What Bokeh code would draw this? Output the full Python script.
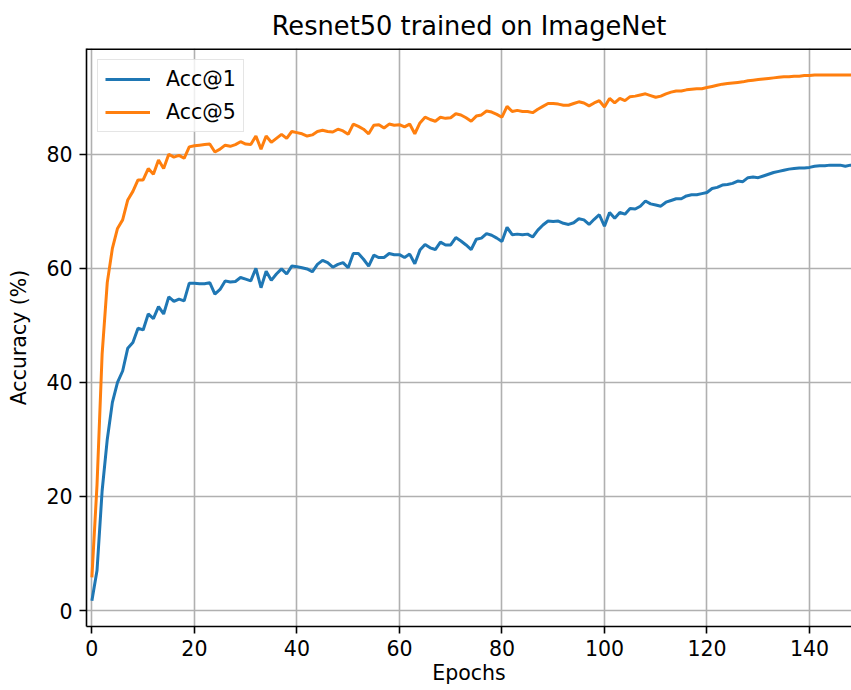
from bokeh.plotting import figure
from bokeh.models import Range1d, FixedTicker, Legend, LegendItem, Span
from bokeh.embed import file_html
from bokeh.resources import INLINE

epochs = list(range(150))

acc1 = [1.7, 7.0, 21.0, 30.0, 36.5, 40.0, 42.0, 46.0, 47.0, 49.5,
        49.2, 52.0, 51.2, 53.3, 52.0, 55.0, 54.2, 54.6, 54.3, 57.4,
        57.4, 57.3, 57.3, 57.5, 55.5, 56.3, 57.8, 57.6, 57.7, 58.4,
        58.1, 57.8, 60.0, 56.6, 59.5, 57.9, 59.0, 59.9, 59.0, 60.4,
        60.3, 60.1, 59.9, 59.4, 60.7, 61.4, 61.0, 60.2, 60.7, 61.0,
        60.1, 62.6, 62.6, 61.6, 60.4, 62.3, 61.9, 61.9, 62.6, 62.4,
        62.4, 61.9, 62.5, 60.8, 63.2, 64.2, 63.6, 63.3, 64.6, 64.1,
        64.1, 65.4, 64.8, 64.1, 63.3, 65.1, 65.3, 66.1, 65.8, 65.3,
        64.7, 67.2, 65.9, 66.0, 65.9, 66.0, 65.5, 66.7, 67.6, 68.3,
        68.2, 68.3, 67.9, 67.7, 68.0, 68.7, 68.5, 67.7, 68.6, 69.4,
        67.4, 69.8, 68.8, 69.8, 69.5, 70.5, 70.4, 70.9, 71.8, 71.3,
        71.1, 70.9, 71.6, 71.9, 72.2, 72.2, 72.7, 72.9, 72.9, 73.1,
        73.3, 74.0, 74.2, 74.6, 74.7, 74.9, 75.3, 75.2, 75.9, 76.0,
        75.9, 76.2, 76.5, 76.8, 77.0, 77.2, 77.4, 77.5, 77.6, 77.6,
        77.7, 77.9, 78.0, 78.0, 78.1, 78.1, 78.1, 77.9, 78.1, 78.1]

acc5 = [5.8, 22.0, 45.0, 57.5, 63.5, 67.0, 68.5, 72.0, 73.5, 75.5,
        75.5, 77.5, 76.5, 79.0, 77.5, 80.0, 79.5, 79.8, 79.3, 81.3,
        81.5, 81.6, 81.7, 81.8, 80.4, 80.9, 81.6, 81.4, 81.7, 82.2,
        81.8, 81.7, 83.2, 80.9, 83.2, 82.1, 82.8, 83.5, 82.8, 84.0,
        83.8, 83.6, 83.2, 83.4, 84.0, 84.2, 84.0, 83.9, 84.4, 84.1,
        83.5, 85.3, 84.9, 84.4, 83.6, 85.1, 85.2, 84.6, 85.3, 85.1,
        85.2, 84.8, 85.3, 83.6, 85.5, 86.5, 86.1, 85.8, 86.5, 86.3,
        86.4, 87.1, 86.9, 86.4, 85.8, 86.7, 86.9, 87.6, 87.4, 87.0,
        86.5, 88.4, 87.5, 87.7, 87.5, 87.5, 87.3, 87.9, 88.4, 88.9,
        88.9, 88.8, 88.6, 88.6, 88.9, 89.2, 89.0, 88.5, 89.0, 89.4,
        88.3, 89.8, 89.0, 89.8, 89.4, 90.1, 90.2, 90.4, 90.6, 90.3,
        90.0, 90.2, 90.6, 90.9, 91.1, 91.1, 91.3, 91.4, 91.5, 91.5,
        91.7, 91.9, 92.1, 92.3, 92.4, 92.5, 92.6, 92.7, 92.9, 93.0,
        93.1, 93.2, 93.3, 93.4, 93.5, 93.6, 93.6, 93.7, 93.7, 93.8,
        93.8, 93.9, 93.9, 93.9, 93.9, 93.9, 93.9, 93.9, 93.9, 93.9]

x_ticks = [0, 20, 40, 60, 80, 100, 120, 140]
y_ticks = [0, 20, 40, 60, 80]
series_labels = ["Acc@1", "Acc@5"]

FONT = "DejaVu Sans"
X0, X1 = -1.05, 148.2
Y0, Y1 = -2.8, 98.55

p = figure(width=851, height=690, output_backend="svg", toolbar_location=None,
           x_range=Range1d(X0, X1), y_range=Range1d(Y0, Y1),
           min_border_left=86, min_border_right=0, min_border_top=48,
           min_border_bottom=64, title="Resnet50 trained on ImageNet")

p.outline_line_color = None
p.background_fill_color = "white"
p.border_fill_color = "white"

p.title.text_font = FONT
p.title.text_font_size = "25.7px"
p.title.text_font_style = "normal"
p.title.text_color = "black"
p.title.align = "center"
p.title.standoff = 16

for ax, ticks in ((p.xaxis, x_ticks), (p.yaxis, y_ticks)):
    ax.ticker = FixedTicker(ticks=ticks)
    ax.major_label_text_font = FONT
    ax.major_label_text_font_size = "20.5px"
    ax.major_label_text_color = "black"
    ax.axis_label_text_font = FONT
    ax.axis_label_text_font_size = "20.5px"
    ax.axis_label_text_font_style = "normal"
    ax.axis_label_text_color = "black"
    ax.axis_line_color = "black"
    ax.axis_line_width = 1.6
    ax.major_tick_line_color = "black"
    ax.major_tick_line_width = 1.6
    ax.major_tick_out = 7
    ax.major_tick_in = 0
    ax.minor_tick_line_color = None
    ax.major_label_standoff = 7

p.xaxis.axis_label = "Epochs"
p.xaxis.major_label_standoff = 6
p.xaxis.axis_label_standoff = 2
p.yaxis.axis_label = "Accuracy (%)"
p.yaxis.axis_label_standoff = 12

for g in (p.xgrid, p.ygrid):
    g.grid_line_color = "#b0b0b0"
    g.grid_line_width = 1.6

top_line = Span(location=Y1, dimension="width", line_color="black", line_width=3.2)
p.add_layout(top_line)

r1 = p.line(epochs, acc1, line_color="#1f77b4", line_width=3.0)
r2 = p.line(epochs, acc5, line_color="#ff7f0e", line_width=3.0)

legend = Legend(items=[LegendItem(label=series_labels[0], renderers=[r1]),
                       LegendItem(label=series_labels[1], renderers=[r2])],
                location="top_left", margin=11, padding=7, spacing=9,
                glyph_width=45, glyph_height=24, label_height=24,
                label_standoff=16,
                label_text_font=FONT, label_text_font_size="20.5px",
                label_text_color="black",
                border_line_color="#cccccc", border_line_width=1.5,
                background_fill_color="white", background_fill_alpha=0.8)
p.add_layout(legend)

open("out.html", "w").write(file_html(p, INLINE))
